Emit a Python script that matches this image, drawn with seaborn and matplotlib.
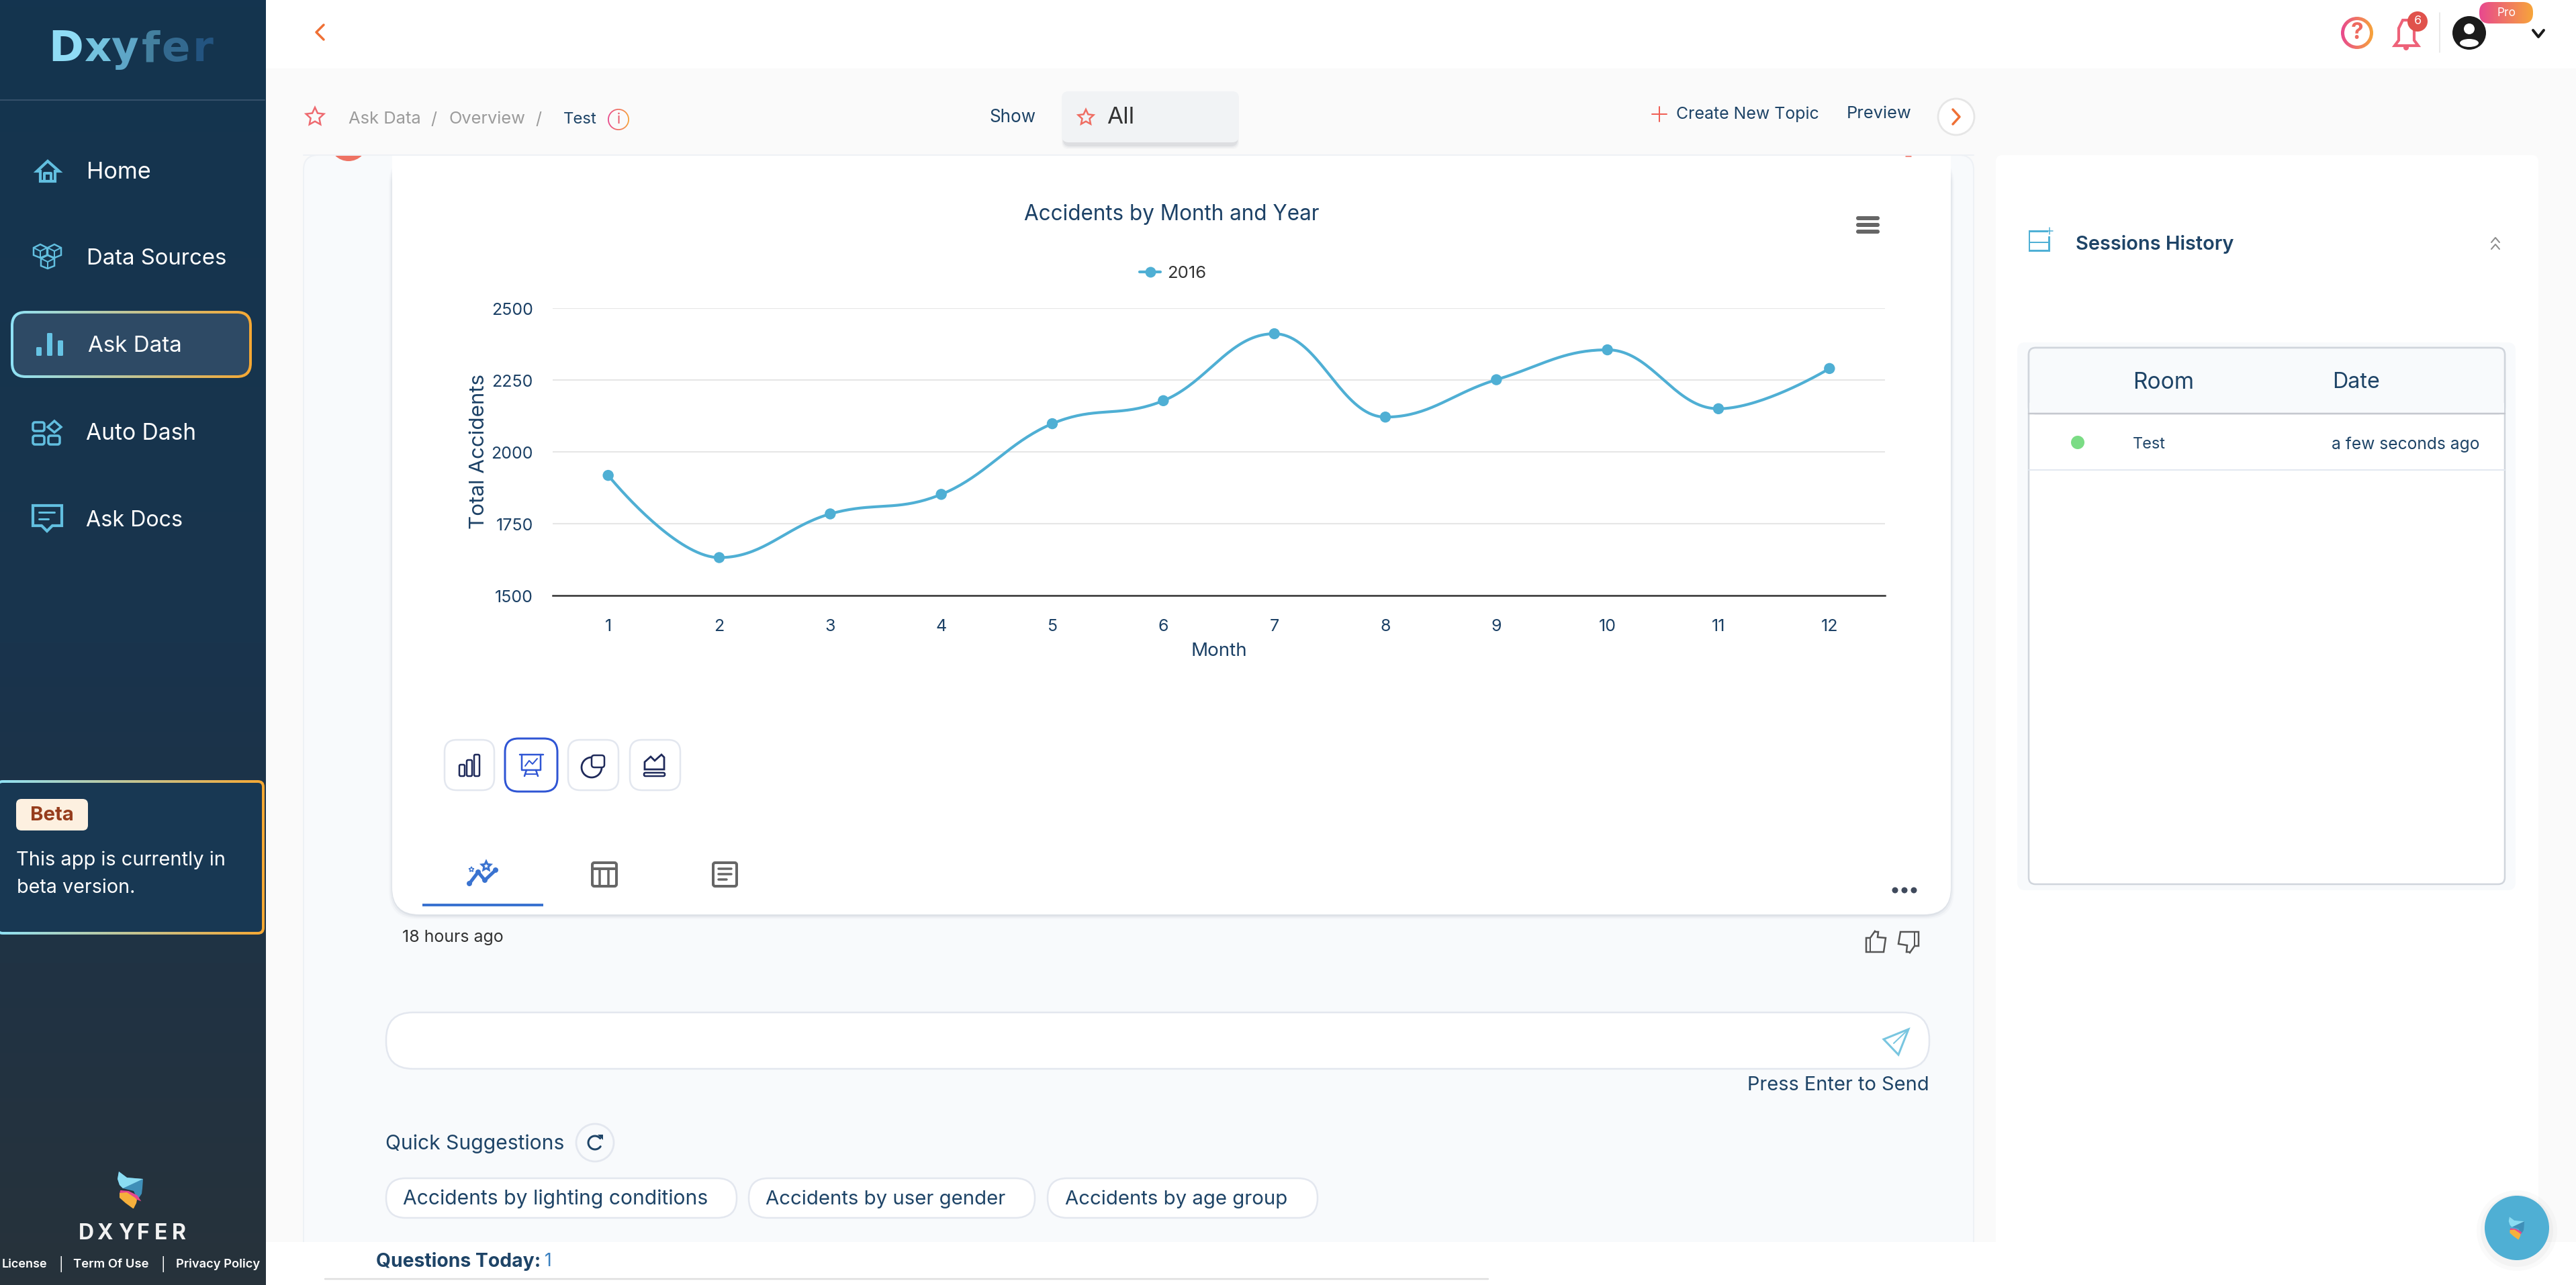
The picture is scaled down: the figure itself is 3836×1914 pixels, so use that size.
import numpy as np
import pandas as pd
import seaborn as sns
import matplotlib
matplotlib.use("Agg")
import matplotlib.pyplot as plt
from matplotlib.colors import LinearSegmentedColormap
from matplotlib.lines import Line2D
from matplotlib.patches import Annulus, Circle, Ellipse, FancyBboxPatch, Polygon, Rectangle
from matplotlib.transforms import ScaledTranslation

# chart values
months = [1, 2, 3, 4, 5, 6, 7, 8, 9, 10, 11, 12]
accidents = [1918, 1632, 1784, 1852, 2098, 2178, 2411, 2121, 2251, 2355, 2150, 2290]
y_ticks = [1500, 1750, 2000, 2250, 2500]
series_name = "2016"
chart_title = "Accidents by Month and Year"

NAVY = "#1c4166"
LINE = "#4fafd4"
W, H = 3836, 1914

sns.set_theme(style="white")
plt.rcParams["font.family"] = ["Inter", "DejaVu Sans"]

fig = plt.figure(figsize=(W / 100, H / 100), dpi=100, facecolor="#fafafa")
ui = fig.add_axes([0, 0, 1, 1], zorder=0)
ui.axis("off")
renderer = fig.canvas.get_renderer()


def box(x0, y0, x1, y1, r=0, fc="white", ec="none", lw=0, z=1, alpha=1):
    p = FancyBboxPatch((x0 + r, y0 + r), x1 - x0 - 2 * r, y1 - y0 - 2 * r,
                       boxstyle=f"round,pad={r},rounding_size={r}",
                       fc=fc, ec=ec, lw=lw * 0.72, zorder=z, alpha=alpha)
    ui.add_patch(p)
    return p


def seg(xs, ys, c, lw=3, z=5):
    ui.add_line(Line2D(xs, ys, color=c, lw=lw * 0.72, zorder=z, solid_capstyle="round", solid_joinstyle="round"))


def fit(t, w):
    # scale the font so the text takes the length measured on the screenshot
    size = t.get_fontsize()
    bb = t.get_window_extent(renderer)
    t.set_fontsize(size * w / max(bb.width, bb.height))


def txt(x, y, s, w=None, size=20, c=NAVY, ha="left", weight="normal", z=6):
    t = ui.text(x, y + 3, s, color=c, fontsize=size, ha=ha, va="center", fontweight=weight, zorder=z)
    if w:
        fit(t, w)
    return t


def gradient(x0, y0, x1, y1, c1, c2, clip=None, z=2, vertical=False, mid=None):
    cols = [c1, mid, c2] if mid else [c1, c2]
    cmap = LinearSegmentedColormap.from_list("g", cols)
    g = np.linspace(0, 1, 256).reshape(-1, 1) if vertical else np.linspace(0, 1, 256).reshape(1, -1)
    im = ui.imshow(g, extent=(x0, x1, y1, y0), cmap=cmap, aspect="auto", zorder=z, interpolation="bilinear")
    if clip is not None:
        im.set_clip_path(clip)
    return im


def grad_box(x0, y0, x1, y1, r, fc, t=4, z=3):
    c = box(x0, y0, x1, y1, r, fc="none", z=z)
    gradient(x0, y0, x1, y1, "#8fe2f6", "#f6a833", clip=c, z=z)
    box(x0 + t, y0 + t, x1 - t, y1 - t, max(r - t, 1), fc=fc, z=z + 0.1)


def grad_ring(cx, cy, r, t, c1="#e8488f", c2="#f7a53a", z=5):
    a = Annulus((cx, cy), r, t, fc="none", ec="none", zorder=z)
    ui.add_patch(a)
    gradient(cx - r, cy - r, cx + r, cy + r, c1, c2, clip=a, z=z)


def star(cx, cy, r, c="#ee6a5f", lw=2.5):
    a = -np.pi / 2 + np.arange(10) * np.pi / 5
    rad = np.where(np.arange(10) % 2 == 0, r, r * 0.48)
    ui.add_patch(Polygon(np.c_[cx + rad * np.cos(a), cy + rad * np.sin(a)], fc="none", ec=c, lw=lw * 0.72, zorder=6))


def flame(cx, cy, s, z=6):
    k = s / 55
    blue = [(-18, -27), (-6, -18), (18, -16), (17, -2), (16, 6), (12, 12), (9, 13), (4, 2), (-12, -2), (-17, -7), (-20, -16)]
    pink = [(-16, 3), (-4, 4), (8, 10), (10, 13)]
    orange = [(-17, 5), (-6, 4), (6, 12), (9, 15), (8, 20), (4, 28), (3, 28), (-8, 20), (-17, 12)]
    ui.add_patch(Polygon(np.array(blue) * k + (cx, cy), fc="#3f8fb8", ec="none", zorder=z))
    ui.add_patch(Polygon(np.array(blue[:3] + blue[-3:]) * k + (cx, cy), fc="#8bdcf2", ec="none", zorder=z))
    ui.add_patch(Polygon(np.array(pink) * k + (cx, cy), fc="#e6478f", ec="#e6478f", lw=3 * k, zorder=z))
    ui.add_patch(Polygon(np.array(orange) * k + (cx, cy), fc="#f6b03c", ec="none", zorder=z + 0.1))


# page layers
ui.add_patch(Rectangle((396, 0), W, 102, fc="white", ec="none", zorder=0.5))
ui.add_patch(Rectangle((396, 1850), W, 70, fc="white", ec="none", zorder=1.5))
gradient(0, 0, 396, H, "#14344f", "#27323b", z=1, vertical=True, mid="#19344d")

# sidebar
for ch, x, c in zip("Dxyfer", [72, 125, 165, 211, 240, 287],
                    ["#8fdcf5", "#74c2de", "#5ea6c7", "#44809f", "#33698f", "#235480"]):
    ui.text(x, 74, ch, color=c, fontsize=45, fontweight="bold", ha="left", va="center", zorder=6,
            family="DejaVu Sans")
seg([0, 394], [149, 149], "#35506a", 2)
grad_box(16, 463, 375, 563, 22, "#2e4a65", t=4)
nav_items = [("Home", 129, 254, 96), ("Data Sources", 129, 382, 209), ("Ask Data", 131, 513, 140),
             ("Auto Dash", 128, 643, 164), ("Ask Docs", 128, 772, 144)]
for name, x, y, w in nav_items:
    txt(x, y, name, w, c="white")

icon = "#62bfe0"
# home
ui.add_patch(Polygon([(55, 255), (71, 240), (88, 255), (82, 255), (82, 270), (60, 270), (60, 255)], fc="none", ec=icon, lw=3, zorder=6))
seg([66, 66, 76, 76], [270, 258, 258, 270], icon, 4)
# cubes
for cx, cy in [(60, 374), (81, 374), (71, 390)]:
    ui.add_patch(Polygon([(cx - 10, cy - 5), (cx, cy - 10), (cx + 10, cy - 5), (cx + 10, cy + 6), (cx, cy + 10), (cx - 10, cy + 6)], fc="none", ec=icon, lw=1.8, zorder=6))
    seg([cx - 10, cx, cx + 10], [cy - 5, cy, cy - 5], icon, 2)
    seg([cx, cx], [cy, cy + 10], icon, 2)
# bars
for x0, y0 in [(54, 517), (70, 496), (86, 507)]:
    box(x0, y0, x0 + 8, 530, 1.5, fc="#66c3e4", z=6)
# auto dash
box(49, 629, 66, 642, 3, fc="none", ec=icon, lw=3.5, z=6)
box(49, 649, 66, 662, 3, fc="none", ec=icon, lw=3.5, z=6)
box(72, 649, 89, 662, 3, fc="none", ec=icon, lw=3.5, z=6)
ui.add_patch(Polygon([(81, 627), (91, 636), (81, 644), (71, 636)], fc="none", ec=icon, lw=2.5, zorder=6))
# ask docs
ui.add_patch(Polygon([(49, 753), (92, 753), (92, 783), (78, 783), (70, 791), (62, 783), (49, 783)], fc="none", ec=icon, lw=3, zorder=6))
seg([58, 81], [763, 763], icon, 3)
seg([58, 72], [773, 773], icon, 3)

grad_box(-6, 1162, 394, 1392, 10, "#183853", t=4)
box(24, 1190, 131, 1237, 8, fc="#fdf0e0", z=5)
txt(45, 1211, "Beta", 65, c="#963d1d", weight="bold")
txt(24, 1278, "This app is currently in", 312, c="white")
txt(25, 1319, "beta version.", 176, c="white")
flame(195, 1772, 55)
for ch, x in zip("DXYFER", [117, 144, 176, 204, 230, 256]):
    ui.text(x, 1837, ch, color="#f2f2f2", fontsize=23, fontweight="bold", ha="left", va="center", zorder=6)
txt(3, 1880, "License", 68, c="white", weight="semibold")
txt(88, 1880, "|", None, 14, c="white")
txt(109, 1880, "Term Of Use", 113, c="white", weight="semibold")
txt(240, 1880, "|", None, 14, c="white")
txt(262, 1880, "Privacy Policy", 126, c="white", weight="semibold")

# top bar
seg([482, 471, 482], [37, 48, 59], "#ef7035", 3.5)
grad_ring(3510, 49, 24, 5)
txt(3510, 46, "?", None, 24, c="#ee6a5f", ha="center", weight="bold")
ui.add_patch(Polygon([(3566, 68), (3572, 60), (3572, 42), (3578, 30), (3590, 30), (3595, 42), (3595, 60), (3601, 68)], fc="none", ec="#ee6279", lw=3, zorder=6))
ui.add_patch(Circle((3583, 71), 4, fc="#ee6279", ec="none", zorder=6))
ui.add_patch(Circle((3600, 32), 15, fc="#e0524c", ec="none", zorder=7))
txt(3600, 29, "6", None, 13, c="white", ha="center", z=8)
seg([3633, 3633], [19, 78], "#e2e2e2", 1.5)
ui.add_patch(Circle((3677, 49), 25, fc="#1b1b1b", ec="none", zorder=6))
ui.add_patch(Circle((3677, 43), 8, fc="white", ec="none", zorder=7))
ui.add_patch(Ellipse((3677, 64), 28, 12, fc="white", ec="none", zorder=7))
c = box(3692, 3, 3772, 35, 15, fc="none", z=6)
gradient(3692, 3, 3772, 35, "#e8488f", "#f7a53a", clip=c, z=6)
txt(3732, 16, "Pro", 28, c="white", ha="center", z=8)
seg([3772, 3780, 3788], [45, 55, 45], "#1b1b1b", 4)

# breadcrumb row
star(469, 174, 14, "#ee6a70")
txt(519, 175, "Ask Data", 108, c="#9b9b9b")
txt(641, 175, "/", None, 18, c="#9b9b9b")
txt(669, 175, "Overview", 114, c="#9b9b9b")
txt(797, 175, "/", None, 18, c="#9b9b9b")
txt(839, 175, "Test", 50, c="#1e4467")
grad_ring(921, 178, 16, 1.8)
txt(921, 175, "i", None, 15, c="#e8566a", ha="center")
txt(1473, 172, "Show", 69, c="#1e4467")
for i, a in enumerate([0.06, 0.1, 0.16]):
    box(1581 + i, 138 + i, 1845 - i, 222 - 2 * i, 10, fc="#9aa0a8", z=1, alpha=a)
box(1581, 136, 1845, 212, 10, fc="#f1f3f5", z=2)
star(1617, 175, 12, "#ef6d62")
txt(1648, 172, "All", 41, c="#333333")
seg([2471, 2471], [159, 181], "#ef5f55", 2)
seg([2460, 2482], [170, 170], "#ef5f55", 2)
txt(2496, 167, "Create New Topic", 213, c="#1e4467")
txt(2750, 166, "Preview", 97, c="#1e4467")
ui.add_patch(Circle((2913, 174), 27, fc="white", ec="#e6e6e6", lw=2, zorder=3))
seg([2908, 2918, 2908], [163, 174, 185], "#ef7035", 3.5)

# chat panel, the card is scrolled so its top edge is cut by the panel
box(452, 231, 2939, 1900, 22, fc="#f8fafc", ec="#eef1f5", lw=2, z=1)
avatar = Circle((519, 212), 28, fc="#ee7263", ec="none", zorder=2)
ui.add_patch(avatar)
avatar.set_clip_path(Rectangle((452, 232), 120, 20, transform=ui.transData))
for i, a in enumerate([0.04, 0.07, 0.1]):
    box(584 - 5 + 2 * i, 232, 2905 + 5 - 2 * i, 1369 - 2 * i, 42, fc="#7c8aa0", z=2.3, alpha=a)
box(584, 232, 2905, 1362, 40, fc="white", z=2.5)
ui.add_patch(Rectangle((584, 232), 2321, 60, fc="white", ec="none", zorder=2.55))
seg([452, 2939], [231, 231], "#eef1f5", 2, z=2.7)
seg([2838, 2846], [233, 233], "#ee6a5f", 1.5, z=2.8)

# chart toolbar
for y in [322, 332, 342]:
    box(2764, y, 2799, y + 6, 3, fc="#666666", z=6)

NI = "#1f2a5a"
BL = "#2f55d4"
for x0, x1 in [(662, 736), (846, 921), (938, 1013)]:
    box(x0, 1102, x1, 1177, 18, fc="white", ec="#e3e7ef", lw=2.5, z=4)
box(752, 1100, 830, 1179, 20, fc="white", ec=BL, lw=3, z=4)
for x0, y0 in [(684, 1139), (695, 1132), (706, 1124)]:
    box(x0, y0, x0 + 8, 1156, 2, fc="none", ec=NI, lw=2.5, z=6)
seg([774, 809], [1124, 1124], BL, 2.5)
seg([777, 777, 805, 805], [1124, 1147, 1147, 1124], BL, 2.5)
seg([782, 788, 793, 800], [1141, 1133, 1138, 1130], BL, 2)
seg([784, 781], [1147, 1156], BL, 2.5)
seg([798, 801], [1147, 1156], BL, 2.5)
seg([783, 799], [1153, 1153], BL, 2)
ui.add_patch(Polygon(np.c_[881 + 15 * np.cos(np.linspace(-1.5, 4.7, 40)), 1143 + 15 * np.sin(np.linspace(-1.5, 4.7, 40))], fc="none", ec=NI, lw=2, zorder=6))
box(881, 1125, 900, 1143, 4, fc="white", ec=NI, lw=2.5, z=6.1)
ui.add_patch(Polygon([(960, 1146), (960, 1135), (969, 1127), (975, 1133), (985, 1124), (989, 1128), (989, 1146)], fc="none", ec=NI, lw=2, zorder=6))
box(959, 1151, 990, 1156, 2, fc="none", ec=NI, lw=2.5, z=6)

# result tabs
T = "#3a73d0"
seg([699, 712, 722, 738], [1316, 1299, 1311, 1296], T, 5)
for x, y in [(699, 1316), (712, 1299), (722, 1311), (738, 1296)]:
    ui.add_patch(Circle((x, y), 4, fc=T, ec="none", zorder=6))
star(724, 1290, 7, T, 3)
star(702, 1295, 4, T, 1.5)
ui.add_patch(Rectangle((629, 1346), 180, 4, fc=T, ec="none", zorder=6))
G = "#666666"
box(882, 1285, 918, 1320, 3, fc="none", ec=G, lw=4, z=6)
seg([882, 918], [1294, 1294], G, 4)
seg([893, 893], [1294, 1320], G, 3.5)
seg([906, 906], [1294, 1320], G, 3.5)
box(1062, 1285, 1097, 1320, 3, fc="none", ec=G, lw=4, z=6)
for y, x1 in [(1294, 1089), (1302, 1089), (1310, 1082)]:
    seg([1070, x1], [y, y], G, 3.5)
for x in [2822, 2836, 2850]:
    ui.add_patch(Circle((x, 1326), 4.5, fc="#3f4a5c", ec="none", zorder=6))

txt(599, 1393, "18 hours ago", 151, c="#333333")
# thumbs
TH = "#555555"
ui.add_patch(Polygon([(2779, 1397), (2785, 1397), (2792, 1387), (2793, 1388), (2797, 1388), (2796, 1396), (2808, 1397), (2805, 1418), (2779, 1418)], fc="none", ec=TH, lw=1.8, zorder=6))
seg([2785, 2785], [1397, 1418], TH, 2)
ui.add_patch(Polygon([(2857, 1409), (2851, 1409), (2844, 1419), (2843, 1418), (2839, 1418), (2840, 1408), (2827, 1406), (2830, 1388), (2857, 1388)], fc="none", ec=TH, lw=1.8, zorder=6))
seg([2851, 2851], [1388, 1409], TH, 2)

# input box and suggestions
box(575, 1508, 2873, 1592, 40, fc="white", ec="#e3e7ef", lw=2.5, z=3)
ui.add_patch(Polygon([(2842, 1533), (2805, 1548), (2827, 1571)], fc="none", ec="#79c6e0", lw=2.2, zorder=6))
seg([2842, 2820], [1533, 1554], "#79c6e0", 2)
txt(2602, 1613, "Press Enter to Send", 271, c="#1e4467")
txt(574, 1701, "Quick Suggestions", 265, c="#1e4467")
ui.add_patch(Circle((886, 1702), 28, fc="#f8fafc", ec="#e3e7ef", lw=2, zorder=3))
th = np.linspace(0.6, 5.6, 30)
seg(886 + 10 * np.cos(th), 1702 + 10 * np.sin(th), "#1e4467", 3)
ui.add_patch(Polygon([(890, 1690), (898, 1690), (898, 1698)], fc="#1e4467", ec="none", zorder=6))
chips = [("Accidents by lighting conditions", 575, 1097, 600, 453),
         ("Accidents by user gender", 1115, 1541, 1140, 357),
         ("Accidents by age group", 1560, 1962, 1586, 331)]
for s, x0, x1, tx, tw in chips:
    box(x0, 1755, x1, 1814, 29, fc="white", ec="#e3e7ef", lw=2.5, z=3)
    txt(tx, 1783, s, tw, c="#1e4467")

# footer
txt(560, 1876, "Questions Today:", 246, c="#1e4467", weight="bold")
txt(811, 1876, "1", None, 19, c="#3a80c0")
seg([484, 2216], [1905, 1905], "#dfdfdf", 2.5)

# sessions panel
box(2972, 231, 3780, 1880, 10, fc="white", z=1.2)
box(3021, 343, 3050, 346, 0, fc="#4fb0d5", z=5)
box(3021, 345, 3023, 375, 0, fc="#4fb0d5", z=5)
box(3021, 372, 3053, 375, 0, fc="#4fb0d5", z=5)
box(3021, 360, 3053, 362, 0, fc="#4fb0d5", z=5)
box(3050, 352, 3053, 375, 0, fc="#4fb0d5", z=5)
seg([3052, 3052], [339, 349], "#4fb0d5", 1.5)
seg([3047, 3057], [344, 344], "#4fb0d5", 1.5)
txt(3091, 361, "Sessions History", 236, c="#1e4467", weight="semibold")
seg([3710, 3716, 3722], [361, 354, 361], "#8b8b8b", 2)
seg([3710, 3716, 3722], [371, 364, 371], "#8b8b8b", 2)

box(3004, 510, 3746, 1326, 12, fc="#f8fafc", z=2)
box(3021, 518, 3730, 1317, 10, fc="white", ec="#d0d5dc", lw=2.5, z=3)
box(3021, 518, 3730, 616, 10, fc="#f8fafc", ec="#d0d5dc", lw=2.5, z=3.1)
ui.add_patch(Rectangle((3022, 600), 707, 16, fc="#f8fafc", ec="none", zorder=3.2))
seg([3021, 3730], [616, 616], "#c5c8cf", 2.5, z=3.3)
seg([3021, 3730], [700, 700], "#e2e8f0", 2, z=3.3)
txt(3176, 567, "Room", 91, c="#1e4467")
txt(3473, 567, "Date", 71, c="#1e4467")
ui.add_patch(Circle((3094, 659), 10, fc="#7bdc85", ec="none", zorder=5))
txt(3176, 659, "Test", 49, c="#1e4467")
txt(3472, 659, "a few seconds ago", 220, c="#1e4467")

# chat launcher
for r, a in [(60, 0.03), (54, 0.05)]:
    ui.add_patch(Circle((3748, 1833), r, fc="#777777", ec="none", alpha=a, zorder=5))
ui.add_patch(Circle((3748, 1829), 48, fc=LINE, ec="none", zorder=6))
flame(3748, 1829, 34, z=7)

ui.set_xlim(0, W)
ui.set_ylim(H, 0)

# the chart itself
chart = fig.add_axes([823 / W, 1 - 887 / H, (2807 - 823) / W, (887 - 459) / H], zorder=2)
chart.patch.set_alpha(0)


def spline_tangents(xs, ys, smooth=1.5):
    # same handle rule the web chart uses, flat handles at local extremes
    n = len(xs)
    left, right = [None] * n, [None] * n
    for i in range(1, n - 1):
        lx = (smooth * xs[i] + xs[i - 1]) / (smooth + 1)
        ly = (smooth * ys[i] + ys[i - 1]) / (smooth + 1)
        rx = (smooth * xs[i] + xs[i + 1]) / (smooth + 1)
        ry = (smooth * ys[i] + ys[i + 1]) / (smooth + 1)
        shift = (ry - ly) * (rx - xs[i]) / (rx - lx) + ys[i] - ry
        ly += shift
        ry += shift
        if (ly > ys[i - 1] and ly > ys[i]) or (ly < ys[i - 1] and ly < ys[i]):
            ly = max(ys[i - 1], ys[i]) if ly > ys[i] else min(ys[i - 1], ys[i])
            ry = 2 * ys[i] - ly
        if (ry > ys[i + 1] and ry > ys[i]) or (ry < ys[i + 1] and ry < ys[i]):
            ry = max(ys[i + 1], ys[i]) if ry > ys[i] else min(ys[i + 1], ys[i])
            ly = 2 * ys[i] - ry
        left[i], right[i] = (lx, ly), (rx, ry)
    left[-1] = (xs[-1], ys[-1])
    right[0] = (xs[0], ys[0])
    return left, right


left, right = spline_tangents(months, accidents)
t = np.linspace(0, 1, 40)
curve_x, curve_y = [], []
for i in range(len(months) - 1):
    p0, p3 = (months[i], accidents[i]), (months[i + 1], accidents[i + 1])
    p1, p2 = right[i], left[i + 1]
    for k, out in enumerate([curve_x, curve_y]):
        out.extend((1 - t) ** 3 * p0[k] + 3 * (1 - t) ** 2 * t * p1[k] + 3 * (1 - t) * t ** 2 * p2[k] + t ** 3 * p3[k])

curve = pd.DataFrame({"Month": curve_x, "Total Accidents": curve_y})
points = pd.DataFrame({"Month": months, "Total Accidents": accidents})
sns.lineplot(data=curve, x="Month", y="Total Accidents", ax=chart, color=LINE, linewidth=3,
             estimator=None, sort=False, zorder=3)
sns.scatterplot(data=points, x="Month", y="Total Accidents", ax=chart, color=LINE, s=140,
                edgecolor="none", zorder=4, clip_on=False)

chart.set_xlim(0.5, 12.5)
chart.set_ylim(y_ticks[0], y_ticks[-1])
chart.set_xticks(months)
chart.set_yticks(y_ticks)
chart.grid(axis="y", color="#e6e6e6", lw=1.5)
chart.grid(axis="x", visible=False)
chart.set_axisbelow(True)
for side in ["top", "left", "right"]:
    chart.spines[side].set_visible(False)
chart.spines["bottom"].set_color("#333333")
chart.spines["bottom"].set_linewidth(1.8)
chart.tick_params(axis="both", length=0, labelsize=18, labelcolor=NAVY)
chart.tick_params(axis="x", pad=25)
chart.tick_params(axis="y", pad=21)
shift_down = ScaledTranslation(0, -1 / 100, fig.dpi_scale_trans)
for lab in chart.get_yticklabels():
    lab.set_transform(lab.get_transform() + shift_down)

chart.set_xlabel("Month", color=NAVY, fontsize=20, labelpad=9)
chart.set_ylabel("Total Accidents", color=NAVY, fontsize=22, labelpad=3)
title = chart.set_title(chart_title, color=NAVY, fontsize=22, pad=94, x=(1745 - 823) / (2807 - 823))
fit(title, 440)
fit(chart.yaxis.label, 231)

handle = Line2D([0], [0], color=LINE, lw=3, marker="o", ms=11.5, mec="none")
chart.legend([handle], [series_name], loc="center", frameon=False, fontsize=18.5, labelcolor="#333333",
             bbox_to_anchor=(1747 / W, 1 - 407 / H), bbox_transform=fig.transFigure,
             handlelength=1.2, handletextpad=0.4)

fig.savefig("out.png", dpi=100, facecolor=fig.get_facecolor())
